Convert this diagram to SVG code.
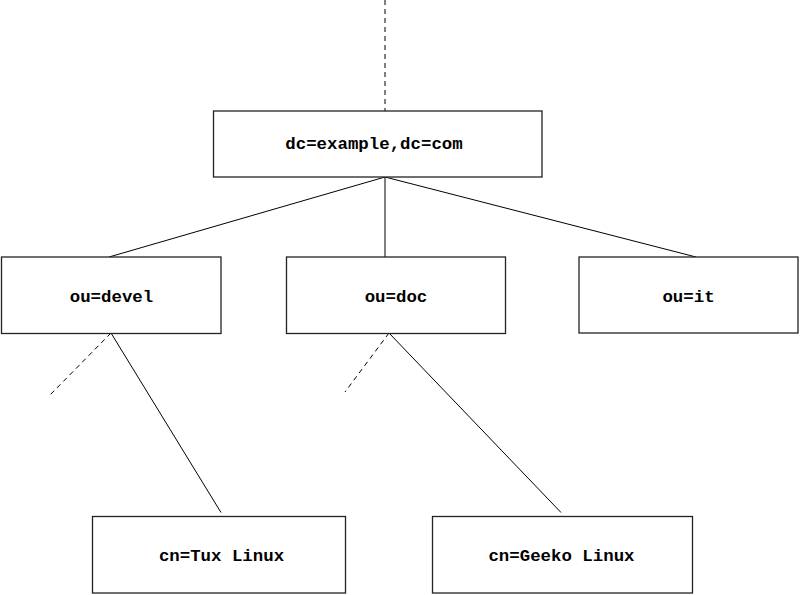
<svg xmlns="http://www.w3.org/2000/svg" width="800" height="595" viewBox="0 0 800 595">
<style>
.box{fill:#fff;stroke:#222;stroke-width:1.3}
.lbl{font-family:"Liberation Mono","Courier New",monospace;font-weight:bold;font-size:17.4px;fill:#000;text-anchor:middle}
.ln{stroke:#000;stroke-width:1;fill:none}
.dash{stroke-dasharray:5,4}
</style>
<rect width="800" height="595" fill="#fff"/>
<g id="connectors">
<line class="ln dash" x1="385" y1="0" x2="385" y2="111"/>
<line class="ln" x1="385" y1="177" x2="109" y2="257"/>
<line class="ln" x1="385" y1="177" x2="385" y2="257"/>
<line class="ln" x1="385" y1="177" x2="696" y2="257"/>
<line class="ln" x1="111" y1="333" x2="221" y2="512.5"/>
<line class="ln dash" x1="111" y1="333" x2="49" y2="396"/>
<line class="ln" x1="389" y1="333" x2="561" y2="512.5"/>
<line class="ln dash" x1="389" y1="333" x2="345" y2="392"/>
</g>
<g id="root">
<rect class="box" x="213.5" y="111" width="328.5" height="66"/>
<text class="lbl" x="374" y="148.5">dc=example,dc=com</text>
</g>
<g id="devel">
<rect class="box" x="1.5" y="257" width="219.5" height="76.5"/>
<text class="lbl" x="111.5" y="301.5">ou=devel</text>
</g>
<g id="doc">
<rect class="box" x="286.5" y="257" width="219" height="76.5"/>
<text class="lbl" x="396" y="301.5">ou=doc</text>
</g>
<g id="it">
<rect class="box" x="579" y="257" width="219" height="76"/>
<text class="lbl" x="688.5" y="301.5">ou=it</text>
</g>
<g id="tux">
<rect class="box" x="92.5" y="516.5" width="253" height="76.5"/>
<text class="lbl" x="221.5" y="560.5">cn=Tux Linux</text>
</g>
<g id="geeko">
<rect class="box" x="432.5" y="516.5" width="260" height="76.5"/>
<text class="lbl" x="561.5" y="560.5">cn=Geeko Linux</text>
</g>
</svg>
